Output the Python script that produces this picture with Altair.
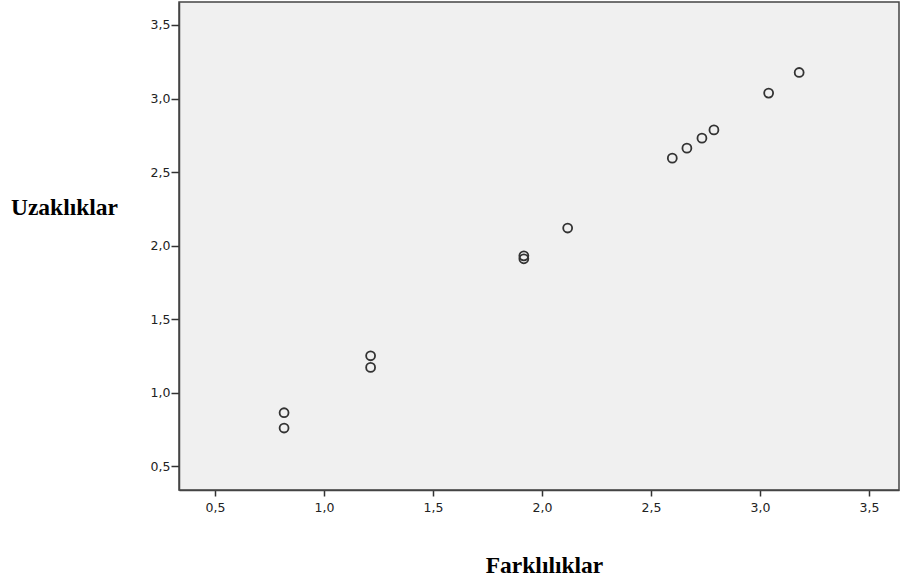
import altair as alt
import pandas as pd

# Disparities (Farklılıklar) vs. fitted distances (Uzaklıklar)
farkliliklar = [0.817, 0.817, 1.214, 1.214, 1.917, 1.917, 2.118,
                2.598, 2.665, 2.734, 2.789, 3.040, 3.180]
uzakliklar = [0.865, 0.761, 1.252, 1.173, 1.931, 1.911, 2.120,
              2.595, 2.663, 2.731, 2.787, 3.037, 3.177]
tick_values = [0.5, 1.0, 1.5, 2.0, 2.5, 3.0, 3.5]

df = pd.DataFrame({"Farklılıklar": farkliliklar, "Uzaklıklar": uzakliklar})

comma_label = "replace(format(datum.value, '.1f'), '.', ',')"

x_axis = alt.Axis(
    values=tick_values, labelExpr=comma_label, grid=False,
    tickSize=6, tickWidth=1.5, tickColor="#333", domainColor="#444", domainWidth=1.5,
    labelFont="DejaVu Sans", labelFontSize=12.5, labelColor="#222", labelPadding=5,
    title="Farklılıklar", titleFont="Liberation Serif", titleFontSize=23.5,
    titleFontWeight="bold", titleColor="#000", titleAnchor="start",
    titleAlign="center", titleBaseline="middle", titleX=365, titleY=75,
)
y_axis = alt.Axis(
    values=tick_values, labelExpr=comma_label, grid=False,
    tickSize=8, tickWidth=1.5, tickColor="#333", domainColor="#444", domainWidth=1.5,
    labelFont="DejaVu Sans", labelFontSize=12.5, labelColor="#222", labelPadding=1,
    title="Uzaklıklar", titleFont="Liberation Serif", titleFontSize=23.5,
    titleFontWeight="bold", titleColor="#000", titleAngle=0,
    titleAlign="center", titleBaseline="middle", titleX=-115, titleY=205,
)

chart = (
    alt.Chart(df)
    .mark_point(shape="circle", filled=False, size=80, stroke="#333", strokeWidth=1.8, opacity=1)
    .encode(
        x=alt.X("Farklılıklar:Q", scale=alt.Scale(domain=[0.335, 3.638], nice=False, zero=False), axis=x_axis),
        y=alt.Y("Uzaklıklar:Q", scale=alt.Scale(domain=[0.34, 3.656], nice=False, zero=False), axis=y_axis),
    )
    .properties(
        width=720, height=488,
        autosize=alt.AutoSizeParams(type="none"),
        padding={"left": 179, "top": 2, "right": 1, "bottom": 93},
        background="white",
    )
    .configure_view(fill="#f0f0f0", stroke="#444", strokeWidth=1.5)
)

chart.save("out.html", embed_options={"renderer": "svg", "actions": False})
